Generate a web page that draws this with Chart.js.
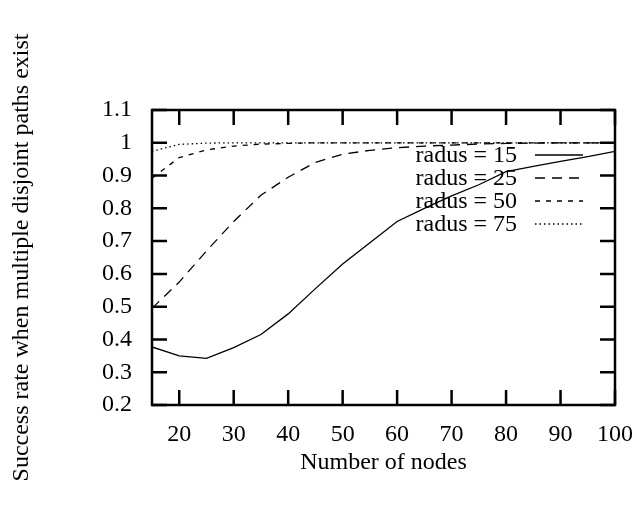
<!DOCTYPE html>
<html>
<head>
<meta charset="utf-8">
<script src="https://cdn.jsdelivr.net/npm/chart.js@4/dist/chart.umd.min.js"></script>
<style>
  html, body { margin: 0; padding: 0; background: #fff; }
  #wrap { width: 637px; height: 508px; }
</style>
</head>
<body>
<div id="wrap"><canvas id="chart" width="637" height="508"></canvas></div>
<script>
// data
const nodes = [15, 20, 25, 30, 35, 40, 45, 50, 55, 60, 65, 70, 75, 80, 85, 90, 95, 100];
const radus15 = [0.377, 0.35, 0.342, 0.375, 0.415, 0.478, 0.555, 0.63, 0.695, 0.76, 0.8, 0.838, 0.872, 0.912, 0.928, 0.943, 0.958, 0.974];
const radus25 = [0.495, 0.575, 0.67, 0.76, 0.84, 0.895, 0.94, 0.965, 0.977, 0.985, 0.99, 0.993, 0.996, 0.998, 0.999, 1.0, 1.0, 1.0];
const radus50 = [0.892, 0.955, 0.978, 0.99, 0.996, 0.998, 1.0, 1.0, 1.0, 1.0, 1.0, 1.0, 1.0, 1.0, 1.0, 1.0, 1.0, 1.0];
const radus75 = [0.974, 0.995, 0.999, 1.0, 1.0, 1.0, 1.0, 1.0, 1.0, 1.0, 1.0, 1.0, 1.0, 1.0, 1.0, 1.0, 1.0, 1.0];
const seriesLabels = ['radus = 15', 'radus = 25', 'radus = 50', 'radus = 75'];
const xTicks = [20, 30, 40, 50, 60, 70, 80, 90, 100];
const yTicks = [0.2, 0.3, 0.4, 0.5, 0.6, 0.7, 0.8, 0.9, 1, 1.1];

const dashes = [[], [10, 7], [5, 6], [1.5, 3]];
const font = "'Liberation Serif', 'Times New Roman', serif";

const pts = arr => nodes.map((x, i) => ({ x: x, y: arr[i] }));

// ticks pointing inwards on all four sides + the frame
const frameTicks = {
  id: 'frameTicks',
  afterDatasetsDraw(chart) {
    const { ctx, chartArea: a, scales: { x, y } } = chart;
    const len = 15;
    ctx.save();
    ctx.strokeStyle = '#000';
    ctx.lineWidth = 2.5;
    ctx.beginPath();
    xTicks.forEach(v => {
      const px = x.getPixelForValue(v);
      ctx.moveTo(px, a.bottom); ctx.lineTo(px, a.bottom - len);
      ctx.moveTo(px, a.top); ctx.lineTo(px, a.top + len);
    });
    yTicks.forEach(v => {
      const py = y.getPixelForValue(v);
      ctx.moveTo(a.left, py); ctx.lineTo(a.left + len, py);
      ctx.moveTo(a.right, py); ctx.lineTo(a.right - len, py);
    });
    ctx.stroke();
    ctx.strokeRect(a.left, a.top, a.right - a.left, a.bottom - a.top);
    ctx.restore();
  }
};

// gnuplot style key: text then line sample
const keyBox = {
  id: 'keyBox',
  afterDatasetsDraw(chart) {
    const { ctx, chartArea: a } = chart;
    const textRight = a.right - 98;
    const lineL = a.right - 80, lineR = a.right - 32;
    ctx.save();
    ctx.font = '24px ' + font;
    ctx.textAlign = 'right';
    ctx.textBaseline = 'middle';
    chart.data.datasets.forEach((ds, i) => {
      const yy = a.top + 45 + i * 23;
      ctx.fillStyle = '#000';
      ctx.fillText(ds.label, textRight, yy + 1);
      ctx.strokeStyle = '#000';
      ctx.lineWidth = 1.3;
      ctx.setLineDash(dashes[i]);
      ctx.beginPath();
      ctx.moveTo(lineL, yy); ctx.lineTo(lineR, yy);
      ctx.stroke();
    });
    ctx.restore();
  }
};

new Chart(document.getElementById('chart'), {
  type: 'line',
  data: {
    datasets: [radus15, radus25, radus50, radus75].map((arr, i) => ({
      label: seriesLabels[i],
      data: pts(arr),
      borderColor: '#000',
      borderWidth: 1.3,
      borderDash: dashes[i],
      pointRadius: 0,
      tension: 0,
      fill: false
    }))
  },
  options: {
    responsive: false,
    animation: false,
    layout: { padding: { top: 110, right: 22, left: 7, bottom: 31 } },
    plugins: { legend: { display: false }, tooltip: { enabled: false } },
    scales: {
      x: {
        type: 'linear',
        min: 15, max: 100,
        grid: { display: false },
        border: { display: false },
        afterBuildTicks: s => { s.ticks = xTicks.map(v => ({ value: v })); },
        afterFit: s => { s.height = 72; s.paddingLeft = 0; s.paddingRight = 0; },
        ticks: { color: '#000', padding: 7, maxRotation: 0, font: { family: font, size: 24 } },
        title: { display: true, text: 'Number of nodes', color: '#000', padding: { top: 0, bottom: 0 }, font: { family: font, size: 24 } }
      },
      y: {
        min: 0.2, max: 1.1,
        grid: { display: false },
        border: { display: false },
        afterBuildTicks: s => { s.ticks = yTicks.map(v => ({ value: v })); },
        afterFit: s => { s.width = 145; s.paddingTop = 0; s.paddingBottom = 0; },
        ticks: { color: '#000', padding: 12, font: { family: font, size: 24 }, callback: v => String(Math.round(v * 10) / 10) },
        title: { display: true, text: 'Success rate when multiple disjoint paths exist', color: '#000', padding: { top: 0, bottom: 0 }, font: { family: font, size: 24 } }
      }
    }
  },
  plugins: [frameTicks, keyBox]
});
</script>
</body>
</html>
